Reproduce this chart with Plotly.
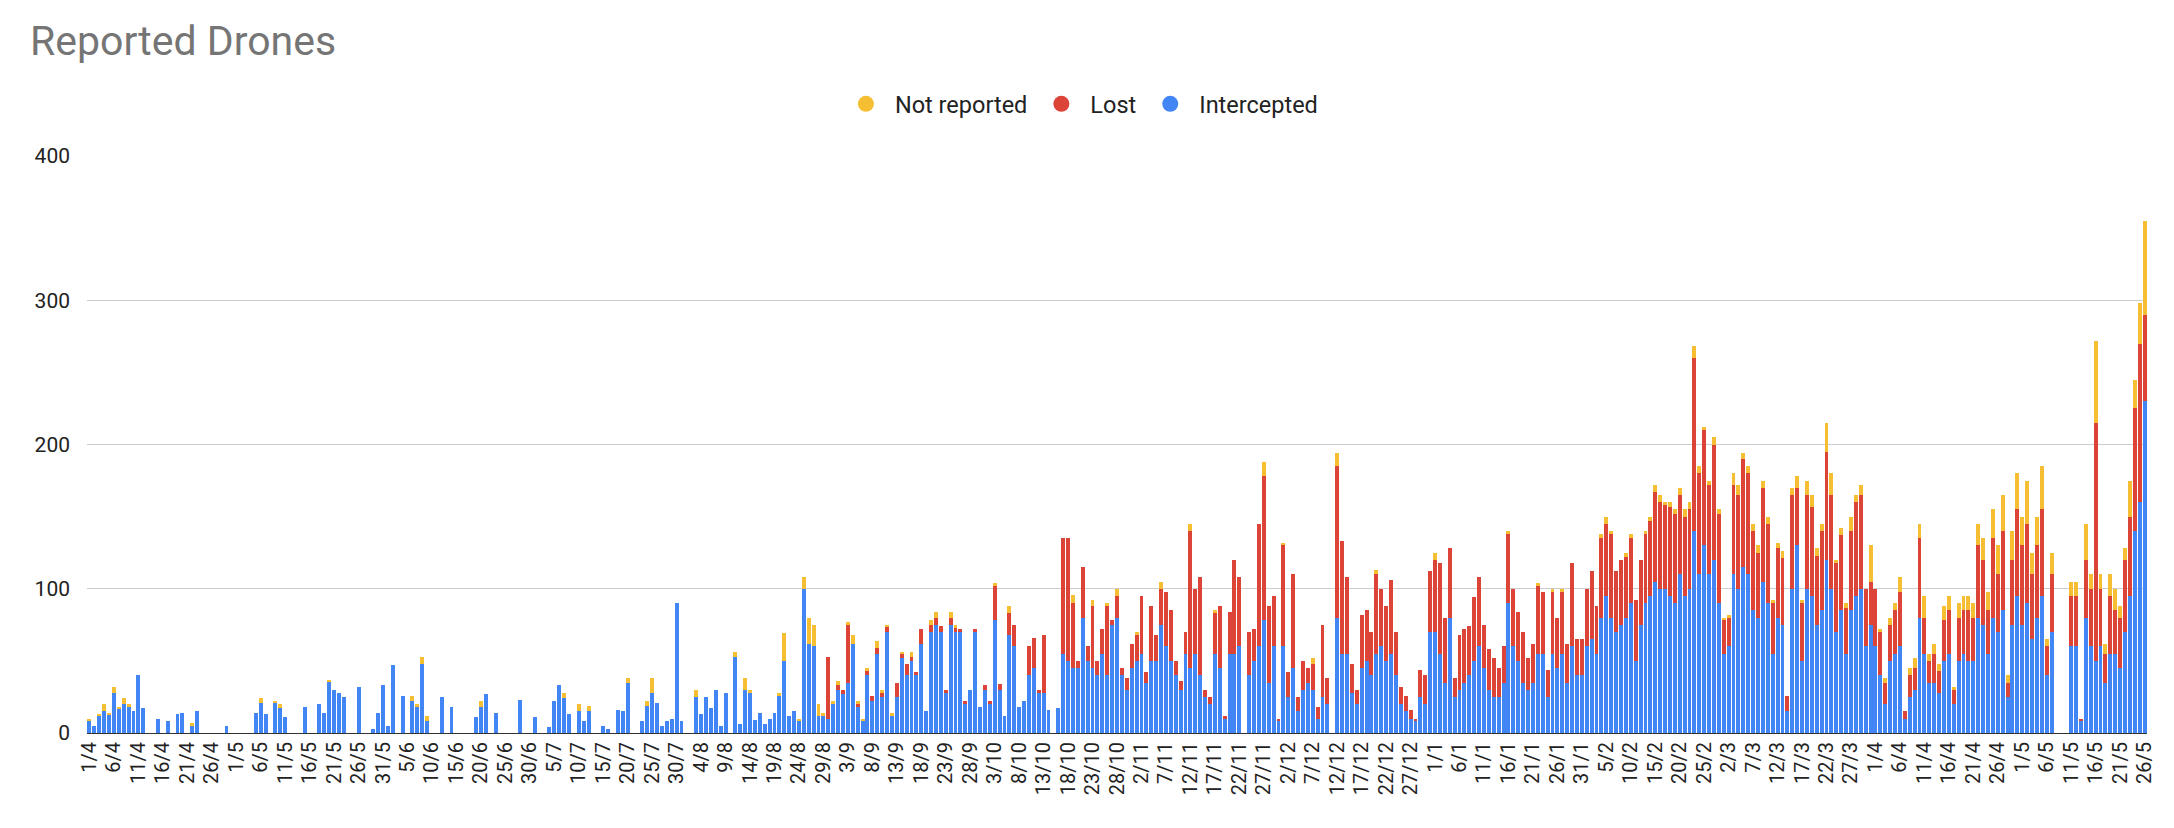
import datetime as dt
import plotly.graph_objects as go

start = dt.date(2024, 4, 1)
n_days = 421
dates = [start + dt.timedelta(days=i) for i in range(n_days)]
x_keys = [d.isoformat() for d in dates]
x_labels = [f"{d.day}/{d.month}" for d in dates]

intercepted = [
    9, 5, 12, 15, 13,      # 1/4
    28, 17, 20, 18, 15,    # 6/4
    40, 17, 0, 0, 10,      # 11/4
    0, 8, 0, 13, 14,       # 16/4
    0, 5, 15, 0, 0,        # 21/4
    0, 0, 0, 5, 0,         # 26/4
    0, 0, 0, 0, 14,        # 1/5
    21, 13, 0, 21, 17,     # 6/5
    11, 0, 0, 0, 18,       # 11/5
    0, 0, 20, 14, 36,      # 16/5
    30, 28, 25, 0, 0,      # 21/5
    32, 0, 0, 3, 14,       # 26/5
    33, 5, 47, 0, 26,      # 31/5
    0, 22, 18, 48, 8,      # 5/6
    0, 0, 25, 0, 18,       # 10/6
    0, 0, 0, 0, 11,        # 15/6
    18, 27, 0, 14, 0,      # 20/6
    0, 0, 0, 23, 0,        # 25/6
    0, 11, 0, 0, 4,        # 30/6
    22, 33, 24, 13, 0,     # 5/7
    15, 8, 15, 0, 0,       # 10/7
    5, 3, 0, 16, 15,       # 15/7
    35, 0, 0, 8, 19,       # 20/7
    28, 21, 5, 8, 10,      # 25/7
    90, 8, 0, 0, 25,       # 30/7
    13, 25, 17, 30, 5,     # 4/8
    28, 0, 53, 6, 30,      # 9/8
    28, 9, 14, 6, 10,      # 14/8
    14, 26, 50, 12, 15,    # 19/8
    8, 100, 62, 60, 12,    # 24/8
    12, 10, 20, 30, 27,    # 29/8
    35, 62, 18, 8, 40,     # 3/9
    22, 55, 25, 70, 12,    # 8/9
    25, 52, 40, 50, 40,    # 13/9
    62, 15, 70, 75, 70,    # 18/9
    28, 75, 70, 70, 20,    # 23/9
    30, 70, 18, 30, 20,    # 28/9
    78, 30, 12, 68, 60,    # 3/10
    18, 22, 40, 45, 28,    # 8/10
    28, 16, 0, 17, 55,     # 13/10
    50, 45, 45, 80, 50,    # 18/10
    45, 40, 55, 40, 75,    # 23/10
    80, 40, 30, 45, 50,    # 28/10
    55, 35, 50, 50, 75,    # 2/11
    60, 50, 40, 30, 55,    # 7/11
    45, 55, 40, 25, 20,    # 12/11
    55, 45, 10, 55, 55,    # 17/11
    60, 0, 40, 50, 60,     # 22/11
    78, 35, 60, 8, 60,     # 27/11
    25, 45, 15, 30, 35,    # 2/12
    30, 10, 25, 20, 0,     # 7/12
    80, 55, 55, 28, 20,    # 12/12
    45, 50, 40, 55, 60,    # 17/12
    50, 55, 40, 20, 15,    # 22/12
    10, 8, 25, 20, 70,     # 27/12
    70, 55, 35, 80, 25,    # 1/1
    30, 35, 40, 50, 60,    # 6/1
    45, 30, 25, 25, 35,    # 11/1
    90, 60, 50, 35, 30,    # 16/1
    35, 55, 55, 25, 55,    # 21/1
    45, 55, 35, 60, 40,    # 26/1
    40, 60, 65, 55, 80,    # 31/1
    95, 80, 70, 75, 80,    # 5/2
    90, 50, 75, 90, 95,    # 10/2
    105, 100, 100, 95, 90, # 15/2
    110, 95, 100, 140, 110,# 20/2
    130, 110, 120, 90, 55, # 25/2
    60, 110, 100, 115, 110,# 2/3
    85, 80, 105, 90, 55,   # 7/3
    80, 75, 15, 100, 130,  # 12/3
    50, 100, 95, 75, 85,   # 17/3
    120, 100, 70, 85, 55,  # 22/3
    85, 95, 100, 60, 75,   # 27/3
    60, 40, 20, 50, 55,    # 1/4
    60, 10, 25, 30, 80,    # 6/4
    55, 35, 35, 28, 50,    # 11/4
    55, 20, 50, 55, 50,    # 16/4
    50, 80, 75, 55, 80,    # 21/4
    70, 85, 25, 75, 95,    # 26/4
    75, 90, 65, 80, 95,    # 1/5
    40, 70, 0, 0, 0,       # 6/5
    60, 60, 8, 80, 60,     # 11/5
    50, 60, 35, 55, 55,    # 16/5
    45, 70, 95, 140, 160,  # 21/5
    230,                   # 26/5
]

lost = [
    0, 0, 0, 0, 0,  # 1/4
    0, 0, 0, 0, 0,  # 6/4
    0, 0, 0, 0, 0,  # 11/4
    0, 0, 0, 0, 0,  # 16/4
    0, 0, 0, 0, 0,  # 21/4
    0, 0, 0, 0, 0,  # 26/4
    0, 0, 0, 0, 0,  # 1/5
    0, 0, 0, 0, 0,  # 6/5
    0, 0, 0, 0, 0,  # 11/5
    0, 0, 0, 0, 0,  # 16/5
    0, 0, 0, 0, 0,  # 21/5
    0, 0, 0, 0, 0,  # 26/5
    0, 0, 0, 0, 0,  # 31/5
    0, 0, 0, 0, 0,  # 5/6
    0, 0, 0, 0, 0,  # 10/6
    0, 0, 0, 0, 0,  # 15/6
    0, 0, 0, 0, 0,  # 20/6
    0, 0, 0, 0, 0,  # 25/6
    0, 0, 0, 0, 0,  # 30/6
    0, 0, 0, 0, 0,  # 5/7
    0, 0, 0, 0, 0,  # 10/7
    0, 0, 0, 0, 0,  # 15/7
    0, 0, 0, 0, 0,  # 20/7
    0, 0, 0, 0, 0,  # 25/7
    0, 0, 0, 0, 0,  # 30/7
    0, 0, 0, 0, 0,  # 4/8
    0, 0, 0, 0, 0,  # 9/8
    0, 0, 0, 0, 0,  # 14/8
    0, 0, 0, 0, 0,  # 19/8
    0, 0, 0, 0, 0,  # 24/8
    0, 43, 0, 3, 3,       # 29/8
    40, 0, 2, 0, 3,       # 3/9
    4, 4, 3, 4, 0,        # 8/9
    10, 3, 8, 3, 2,       # 13/9
    10, 0, 5, 5, 4,       # 18/9
    2, 5, 3, 2, 2,        # 23/9
    0, 2, 0, 3, 2,        # 28/9
    24, 4, 0, 15, 15,     # 3/10
    0, 0, 20, 21, 2,      # 8/10
    40, 0, 0, 0, 80,      # 13/10
    85, 45, 5, 35, 10,    # 18/10
    43, 10, 17, 48, 3,    # 23/10
    15, 5, 8, 17, 18,     # 28/10
    40, 7, 38, 18, 25,    # 2/11
    38, 35, 10, 6, 15,    # 7/11
    95, 45, 68, 5, 5,     # 12/11
    28, 43, 2, 29, 65,    # 17/11
    48, 0, 30, 22, 85,    # 22/11
    100, 53, 35, 2, 70,   # 27/11
    17, 65, 10, 20, 10,   # 2/12
    18, 8, 50, 18, 0,     # 7/12
    105, 78, 53, 20, 10,  # 12/12
    37, 35, 30, 55, 40,   # 17/12
    38, 51, 30, 12, 11,   # 22/12
    6, 2, 19, 20, 42,     # 27/12
    50, 63, 45, 48, 13,   # 1/1
    38, 37, 34, 44, 48,   # 6/1
    30, 28, 27, 20, 25,   # 11/1
    48, 40, 34, 35, 22,   # 16/1
    27, 47, 43, 19, 43,   # 21/1
    35, 43, 27, 58, 25,   # 26/1
    25, 40, 47, 33, 55,   # 31/1
    50, 58, 42, 45, 42,   # 5/2
    45, 42, 45, 48, 52,   # 10/2
    62, 60, 58, 62, 62,   # 15/2
    55, 55, 55, 120, 70,  # 20/2
    80, 62, 80, 62, 23,   # 25/2
    20, 62, 65, 75, 70,   # 2/3
    55, 45, 65, 55, 35,   # 7/3
    48, 46, 11, 65, 40,   # 12/3
    40, 65, 62, 48, 55,   # 17/3
    75, 65, 48, 52, 32,   # 22/3
    55, 65, 65, 40, 30,   # 27/3
    40, 30, 15, 25, 30,   # 1/4
    38, 5, 15, 15, 55,    # 6/4
    25, 15, 20, 15, 28,   # 11/4
    30, 10, 30, 30, 35,   # 16/4
    30, 50, 45, 30, 55,   # 21/4
    40, 55, 10, 45, 60,   # 26/4
    55, 55, 45, 50, 60,   # 1/5
    20, 40, 0, 0, 0,      # 6/5
    35, 35, 2, 40, 40,    # 11/5
    165, 40, 20, 40, 30,  # 16/5
    35, 50, 55, 85, 110,  # 21/5
    60,                   # 26/5
]

not_reported = [
    1, 0, 1, 5, 1,   # 1/4
    4, 1, 4, 2, 0,   # 6/4
    0, 0, 0, 0, 0,   # 11/4
    0, 0, 0, 0, 0,   # 16/4
    0, 2, 0, 0, 0,   # 21/4
    0, 0, 0, 0, 0,   # 26/4
    0, 0, 0, 0, 0,   # 1/5
    3, 0, 0, 1, 3,   # 6/5
    0, 0, 0, 0, 0,   # 11/5
    0, 0, 0, 0, 1,   # 16/5
    0, 0, 0, 0, 0,   # 21/5
    0, 0, 0, 0, 0,   # 26/5
    0, 0, 0, 0, 0,   # 31/5
    0, 4, 2, 5, 4,   # 5/6
    0, 0, 0, 0, 0,   # 10/6
    0, 0, 0, 0, 0,   # 15/6
    4, 0, 0, 0, 0,   # 20/6
    0, 0, 0, 0, 0,   # 25/6
    0, 0, 0, 0, 0,   # 30/6
    0, 0, 4, 0, 0,   # 5/7
    5, 0, 4, 0, 0,   # 10/7
    0, 0, 0, 0, 0,   # 15/7
    3, 0, 0, 0, 3,   # 20/7
    10, 0, 0, 0, 0,  # 25/7
    0, 0, 0, 0, 5,   # 30/7
    0, 0, 0, 0, 0,   # 4/8
    0, 0, 3, 0, 8,   # 9/8
    2, 0, 0, 0, 0,   # 14/8
    0, 2, 19, 0, 0,  # 19/8
    2, 8, 18, 15, 8, # 24/8
    2, 0, 2, 3, 0,   # 29/8
    2, 6, 2, 2, 2,   # 3/9
    0, 5, 2, 1, 2,   # 8/9
    0, 1, 0, 3, 0,   # 13/9
    0, 0, 3, 4, 0,   # 18/9
    0, 4, 2, 0, 0,   # 23/9
    0, 0, 0, 0, 0,   # 28/9
    2, 0, 0, 5, 0,   # 3/10
    0, 0, 0, 0, 0,   # 8/10
    0, 0, 0, 0, 0,   # 13/10
    0, 6, 0, 0, 0,   # 18/10
    4, 0, 0, 2, 0,   # 23/10
    5, 0, 0, 0, 2,   # 28/10
    0, 0, 0, 0, 5,   # 2/11
    0, 0, 0, 0, 0,   # 7/11
    5, 0, 0, 0, 0,   # 12/11
    2, 0, 0, 0, 0,   # 17/11
    0, 0, 0, 0, 0,   # 22/11
    10, 0, 0, 0, 2,  # 27/11
    0, 0, 0, 0, 0,   # 2/12
    4, 0, 0, 0, 0,   # 7/12
    9, 0, 0, 0, 0,   # 12/12
    0, 0, 0, 3, 0,   # 17/12
    0, 0, 0, 0, 0,   # 22/12
    0, 0, 0, 0, 0,   # 27/12
    5, 0, 0, 0, 0,   # 1/1
    0, 0, 0, 0, 0,   # 6/1
    0, 0, 0, 0, 0,   # 11/1
    2, 0, 0, 0, 0,   # 16/1
    0, 2, 0, 0, 2,   # 21/1
    0, 2, 0, 0, 0,   # 26/1
    0, 0, 0, 0, 3,   # 31/1
    5, 2, 0, 0, 3,   # 5/2
    3, 0, 0, 2, 3,   # 10/2
    5, 5, 2, 3, 3,   # 15/2
    5, 5, 5, 8, 5,   # 20/2
    2, 3, 5, 3, 2,   # 25/2
    2, 8, 7, 4, 5,   # 2/3
    5, 5, 5, 5, 2,   # 7/3
    4, 5, 0, 5, 8,   # 12/3
    2, 10, 8, 5, 5,  # 17/3
    20, 15, 2, 5, 3, # 22/3
    10, 5, 7, 0, 25, # 27/3
    0, 2, 3, 5, 5,   # 1/4
    10, 0, 5, 7, 10, # 6/4
    15, 5, 7, 5, 10, # 11/4
    10, 2, 10, 10, 10,   # 16/4
    10, 15, 15, 13, 20,  # 21/4
    20, 25, 5, 20, 25,   # 26/4
    20, 30, 15, 20, 30,  # 1/5
    5, 15, 0, 0, 0,      # 6/5
    10, 10, 0, 25, 10,   # 11/5
    57, 10, 7, 15, 15,   # 16/5
    8, 8, 25, 20, 28,    # 21/5
    65,                  # 26/5
]

FONT = "Roboto"
C_INT, C_LOST, C_NR = "#4285F4", "#DB4437", "#F6BE32"

fig = go.Figure()
fig.add_trace(go.Bar(name="Intercepted", x=x_keys, y=intercepted, marker_color=C_INT, showlegend=False))
fig.add_trace(go.Bar(name="Lost", x=x_keys, y=lost, marker_color=C_LOST, showlegend=False))
fig.add_trace(go.Bar(name="Not reported", x=x_keys, y=not_reported, marker_color=C_NR, showlegend=False))
# legend entries with round markers (as in the original)
for name, col in [("Not reported", C_NR), ("Lost", C_LOST), ("Intercepted", C_INT)]:
    fig.add_trace(go.Scatter(name=name, x=[None], y=[None], mode="markers",
                             marker=dict(symbol="circle", size=17, color=col)))

fig.update_traces(marker_line_width=0, selector=dict(type="bar"))
fig.update_layout(
    width=2174, height=828,
    barmode="stack", bargap=0.2,
    plot_bgcolor="white", paper_bgcolor="white",
    margin=dict(l=87, r=27, t=156, b=95),
    font=dict(family=FONT, size=21, color="#222222"),
    title=dict(text="Reported Drones", x=30 / 2174, xanchor="left", xref="container",
               y=1 - 41 / 828, yanchor="middle", yref="container",
               font=dict(family=FONT, size=41, color="#757575")),
    legend=dict(orientation="h", x=0.482, xanchor="center", y=1.09, yanchor="middle",
                traceorder="normal", itemwidth=48, font=dict(size=23.5, color="#222222")),
    xaxis=dict(type="category", tickmode="array", tickvals=x_keys[::5], ticktext=x_labels[::5],
               tickangle=-90, showgrid=False, showline=True, linecolor="#333333", linewidth=1,
               ticks="", tickfont=dict(size=20)),
    yaxis=dict(range=[0, 400], tickvals=[0, 100, 200, 300, 400], showgrid=True,
               gridcolor="#cccccc", gridwidth=1, zeroline=False, ticks="",
               tickfont=dict(size=21), ticklabelstandoff=16),
)
fig.write_html("out.html", config={"displayModeBar": False},
               post_script="document.body.style.margin='0';")
